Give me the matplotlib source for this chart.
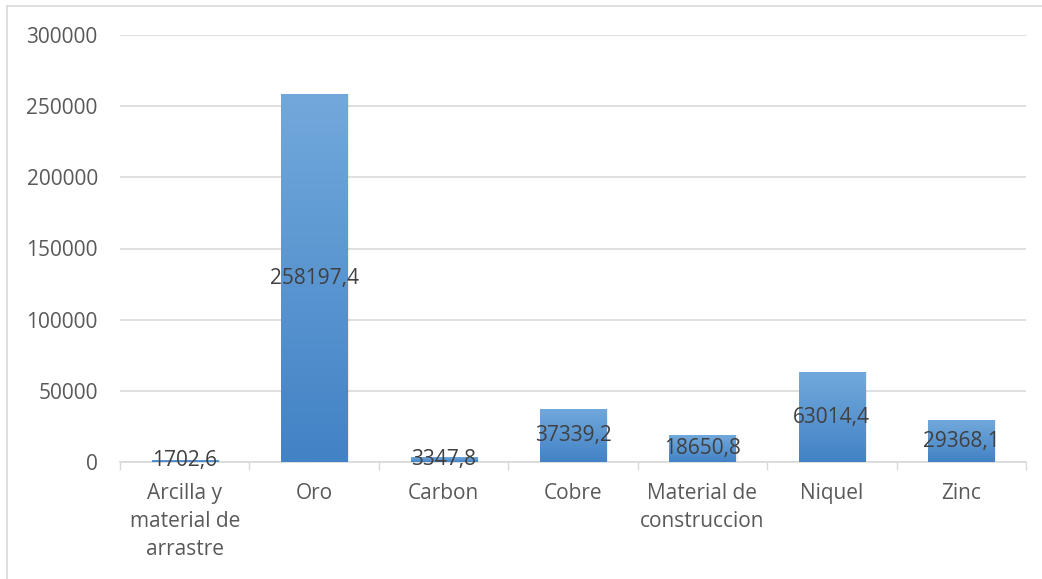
import numpy as np
import matplotlib
matplotlib.use("Agg")
import matplotlib.pyplot as plt
from matplotlib.colors import LinearSegmentedColormap
from matplotlib.lines import Line2D

categories = ["Arcilla y\nmaterial de\narrastre", "Oro", "Carbon", "Cobre",
              "Material de\nconstruccion", "Niquel", "Zinc"]
values = [1702.6, 258197.4, 3347.8, 37339.2, 18650.8, 63014.4, 29368.1]
yticks = [0, 50000, 100000, 150000, 200000, 250000, 300000]

plt.rcParams["font.family"] = ["Open Sans", "DejaVu Sans"]

fig = plt.figure(figsize=(10.42, 5.79), dpi=100)
ax = fig.add_axes([120 / 1042, 117 / 579, 906 / 1042, 427 / 579])

x = np.arange(len(categories))
bars = ax.bar(x, values, width=0.51, color="none", zorder=3)

cmap = LinearSegmentedColormap.from_list("bar", ["#4282c5", "#72a9dc"])
grad = np.linspace(0, 1, 256).reshape(-1, 1)
for b in bars:
    x0, w, h = b.get_x(), b.get_width(), b.get_height()
    # faint drop shadow
    ax.bar(x0 + w / 2 + 0.008, h, width=w + 0.016, color="#000000",
           alpha=0.07, zorder=2, linewidth=0)
    im = ax.imshow(grad, cmap=cmap, aspect="auto", origin="lower",
                   extent=(x0, x0 + w, 0, h), zorder=3)
    im.set_clip_path(b)

for xi, v in zip(x, values):
    ax.text(xi, v / 2, f"{v:.1f}".replace(".", ","), ha="center", va="center",
            fontsize=15, color="#404040", zorder=5)

ax.set_xlim(-0.5, len(categories) - 0.5)
ax.set_ylim(0, 300000)
ax.set_yticks(yticks)
ax.set_yticklabels([str(t) for t in yticks])
ax.set_xticks(x)
ax.set_xticklabels(categories, linespacing=1.45)
ax.set_xticks(np.arange(-0.5, len(categories)), minor=True)

ax.tick_params(axis="y", length=0, pad=16, labelsize=15, labelcolor="#595959")
ax.tick_params(axis="x", which="major", length=0, pad=15, labelsize=15,
               labelcolor="#595959")
ax.tick_params(axis="x", which="minor", length=6, width=1, color="#d9d9d9")

ax.grid(axis="y", color="#d9d9d9", linewidth=1.2, zorder=0)
ax.set_axisbelow(True)
for s in ["top", "right", "left"]:
    ax.spines[s].set_visible(False)
ax.spines["bottom"].set_color("#d9d9d9")
ax.spines["bottom"].set_linewidth(1.2)

# outer chart border (top and left edges visible)
fig.add_artist(Line2D([7 / 1042, 1], [1 - 6 / 579, 1 - 6 / 579],
                      color="#d9d9d9", linewidth=1.2))
fig.add_artist(Line2D([7 / 1042, 7 / 1042], [0, 1 - 6 / 579],
                      color="#d9d9d9", linewidth=1.2))

fig.savefig("out.png", dpi=100)
